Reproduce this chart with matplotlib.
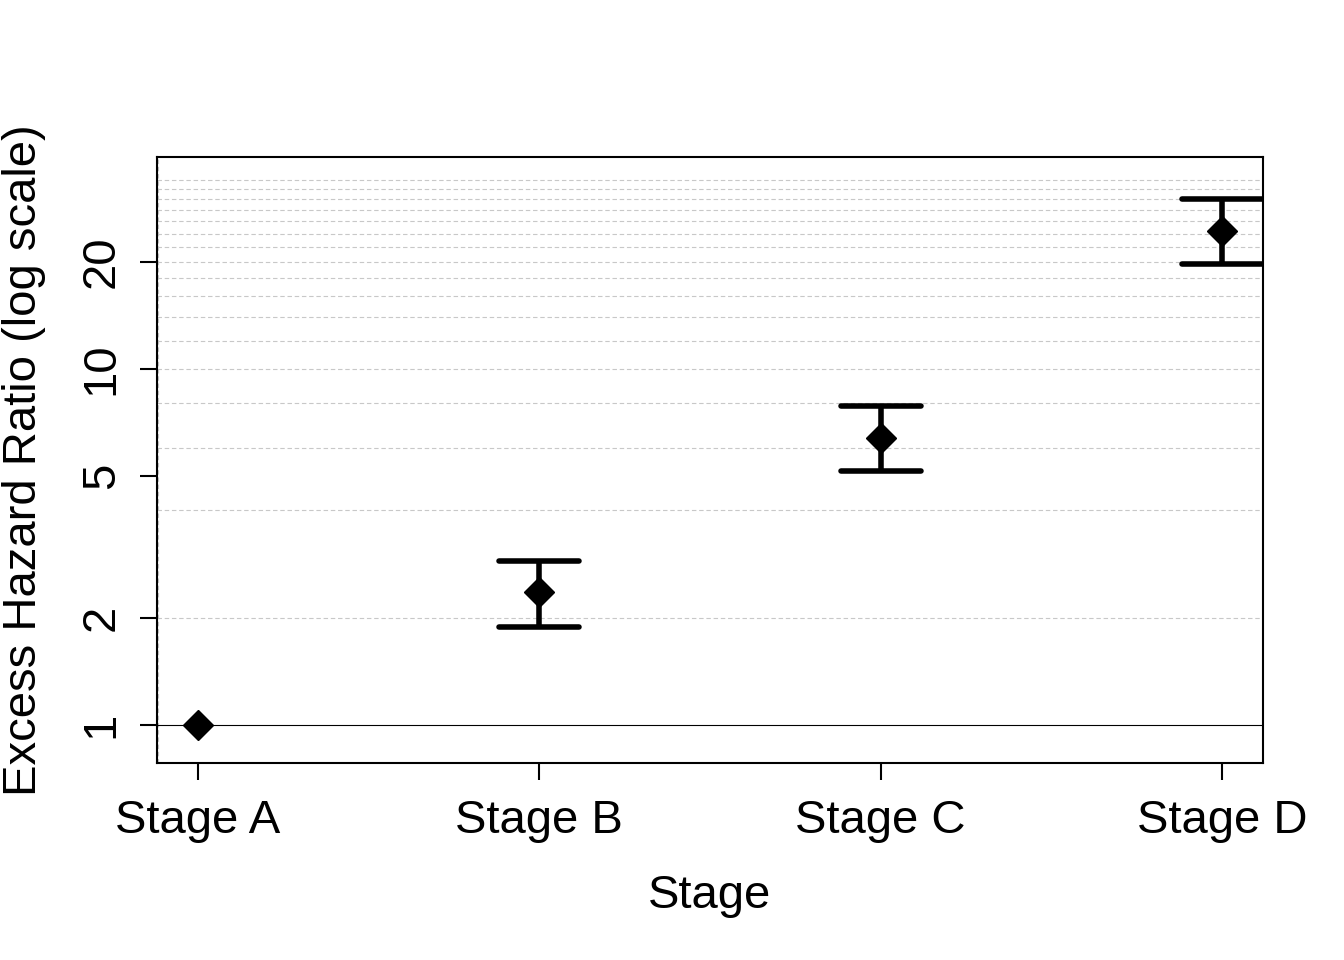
import numpy as np
import matplotlib.pyplot as plt

plt.rcParams['font.family'] = ['Liberation Sans', 'DejaVu Sans']

stages = ["Stage A", "Stage B", "Stage C", "Stage D"]
ehr = [1.0, 2.36, 6.40, 24.4]
lower = [np.nan, 1.885, 5.17, 19.7]
upper = [np.nan, 2.89, 7.87, 30.0]
grid_vals = list(range(2, 36, 2))

fig = plt.figure(figsize=(13.44, 9.6), dpi=100)
ax = fig.add_axes([0.1168, 0.2052, 0.8229, 0.6313])

x = np.arange(1, len(stages) + 1)
ax.set_yscale('log')
ax.set_xlim(0.88, 4.12)
ax.set_ylim(0.78, 39.4)

for g in grid_vals:
    ax.axhline(g, color='#c8c8c8', lw=0.8, dashes=(4, 2.5), zorder=1)
ax.axvline(0.882, color='#c8c8c8', lw=0.8, dashes=(4, 2.5), zorder=1)
ax.axhline(1, color='black', lw=0.8, zorder=2)

cap = 0.117
for xi, lo, hi in zip(x, lower, upper):
    if np.isnan(lo):
        continue
    ax.plot([xi, xi], [lo, hi], color='black', lw=4, solid_capstyle='butt', zorder=3)
    ax.plot([xi - cap, xi + cap], [lo, lo], color='black', lw=4, solid_capstyle='round', zorder=3)
    ax.plot([xi - cap, xi + cap], [hi, hi], color='black', lw=4, solid_capstyle='round', zorder=3)

ax.plot(x, ehr, linestyle='none', marker='D', color='black', markersize=15.5, zorder=4)

ax.set_xticks(x)
ax.set_xticklabels(stages)
ax.set_yticks([1, 2, 5, 10, 20])
ax.set_yticklabels(["1", "2", "5", "10", "20"], rotation=90, va='center')
ax.yaxis.set_minor_locator(plt.NullLocator())
ax.tick_params(axis='both', labelsize=34, length=12, width=1.5, direction='out')
ax.tick_params(axis='x', pad=14)
ax.tick_params(axis='y', pad=12)
for s in ax.spines.values():
    s.set_linewidth(1.5)

ax.set_xlabel("Stage", fontsize=34, labelpad=22)
ax.set_ylabel("Excess Hazard Ratio (log scale)", fontsize=34, labelpad=24)

fig.savefig("out.png", dpi=100)
